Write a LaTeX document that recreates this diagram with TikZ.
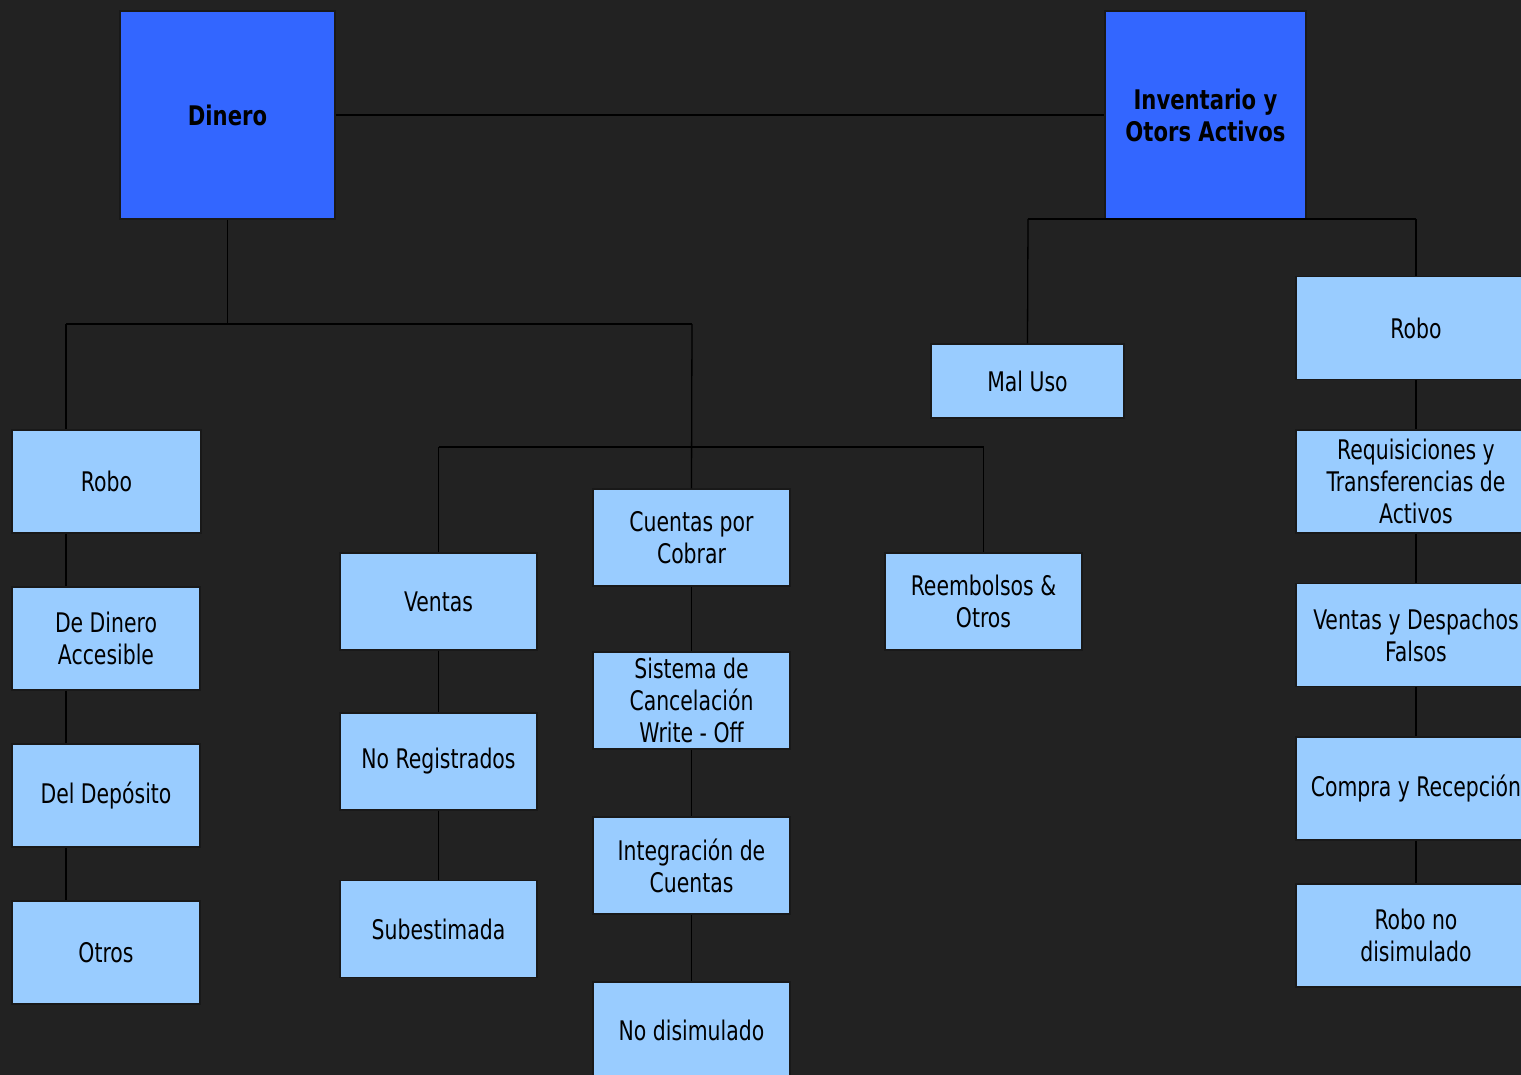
\documentclass[tikz,border=0pt]{standalone}
\usepackage{fontspec}
\setmainfont{DejaVu Sans Condensed}[FakeStretch=0.84]
\newfontfamily\bxfont{DejaVu Sans Condensed}[FakeStretch=0.87]
\definecolor{bg}{HTML}{222222}
\definecolor{topblue}{HTML}{3366FF}
\definecolor{lightblue}{HTML}{99CCFF}
\begin{document}
\begin{tikzpicture}[x=1pt,y=-1pt,
  base/.style={draw=black!90, line width=1.2pt, inner sep=0pt, align=center,
    font=\fontsize{27}{32}\selectfont},
  topbox/.style={base, fill=topblue, font=\fontsize{27}{32}\selectfont\bxfont\bfseries},
  leaf/.style={base, fill=lightblue},
  conn/.style={draw=black, line width=1.3pt}]
\fill[bg] (0,0) rectangle (1521,1075);
\useasboundingbox (0,0) rectangle (1521,1075);
\clip (0,0) rectangle (1521,1075);
% top
\node[topbox, minimum width=215, minimum height=208] (dinero) at (227.5,115) {Dinero};
\node[topbox, minimum width=201, minimum height=208] (inv) at (1205.5,115) {Inventario y\\Otors Activos};
% left column
\node[leaf, minimum width=189, minimum height=103] (robo1) at (106.5,481.5) {Robo};
\node[leaf, minimum width=188, minimum height=103] (dda) at (106,638.5) {De Dinero\\Accesible};
\node[leaf, minimum width=188, minimum height=103] (dep) at (106,795.5) {Del Depósito};
\node[leaf, minimum width=188, minimum height=103] (otros) at (106,952.5) {Otros};
% ventas column
\node[leaf, minimum width=197, minimum height=97] (ventas) at (438.5,601.5) {Ventas};
\node[leaf, minimum width=197, minimum height=97] (noreg) at (438.5,761.5) {No Registrados};
\node[leaf, minimum width=197, minimum height=97] (subest) at (438.5,929) {Subestimada};
% cuentas column
\node[leaf, minimum width=197, minimum height=97] (cxc) at (691.5,537.5) {Cuentas por\\Cobrar};
\node[leaf, minimum width=197, minimum height=97] (sist) at (691.5,700.5) {Sistema de\\Cancelación\\Write - Off};
\node[leaf, minimum width=197, minimum height=97] (integ) at (691.5,865.5) {Integración de\\Cuentas};
\node[leaf, minimum width=197, minimum height=97] (nodis) at (691.5,1030.5) {No disimulado};
% reembolsos
\node[leaf, minimum width=197, minimum height=97] (reemb) at (983.5,601.5) {Reembolsos \&\\Otros};
% mal uso
\node[leaf, minimum width=193, minimum height=74] (maluso) at (1027.5,381) {Mal Uso};
% right column
\node[leaf, minimum width=240, minimum height=103] (robo2) at (1416,328) {Robo};
\node[leaf, minimum width=240, minimum height=103] (req) at (1416,481.5) {Requisiciones y\\Transferencias de\\Activos};
\node[leaf, minimum width=240, minimum height=103] (vdf) at (1416,635) {Ventas y Despachos\\Falsos};
\node[leaf, minimum width=240, minimum height=103] (cyr) at (1416,788.5) {Compra y Recepción};
\node[leaf, minimum width=240, minimum height=103] (rnd) at (1416,935.5) {Robo no\\disimulado};
% junctions
\coordinate (j1) at (227.5,324);
\coordinate (jl) at (66,324);
\coordinate (jc) at (692,324);
\coordinate (jv) at (438.5,447);
\coordinate (jr) at (983.5,447);
\coordinate (ja) at (1028,219);
\coordinate (jb) at (1416,219);
\coordinate (L) at (66,0);
% connectors
\draw[conn] (dinero.east) -- (inv.west);
\draw[conn] (dinero.south) -- (j1);
\draw[conn] (jl) -- (jc);
\draw[conn] (jl) -- (L |- robo1.north);
\draw[conn] (L |- robo1.south) -- (L |- dda.north);
\draw[conn] (L |- dda.south) -- (L |- dep.north);
\draw[conn] (L |- dep.south) -- (L |- otros.north);
\draw[conn] (jc) -- (cxc.north);
\draw[conn] (jv) -- (jr);
\draw[conn] (jv) -- (ventas.north);
\draw[conn] (jr) -- (reemb.north);
\draw[conn] (ventas.south) -- (noreg.north);
\draw[conn] (noreg.south) -- (subest.north);
\draw[conn] (cxc.south) -- (sist.north);
\draw[conn] (sist.south) -- (integ.north);
\draw[conn] (integ.south) -- (nodis.north);
\draw[conn] (ja) -- (jb);
\draw[conn] (ja) -- (maluso.north);
\draw[conn] (jb) -- (robo2.north);
\draw[conn] (robo2.south) -- (req.north);
\draw[conn] (req.south) -- (vdf.north);
\draw[conn] (vdf.south) -- (cyr.north);
\draw[conn] (cyr.south) -- (rnd.north);
\end{tikzpicture}
\end{document}
